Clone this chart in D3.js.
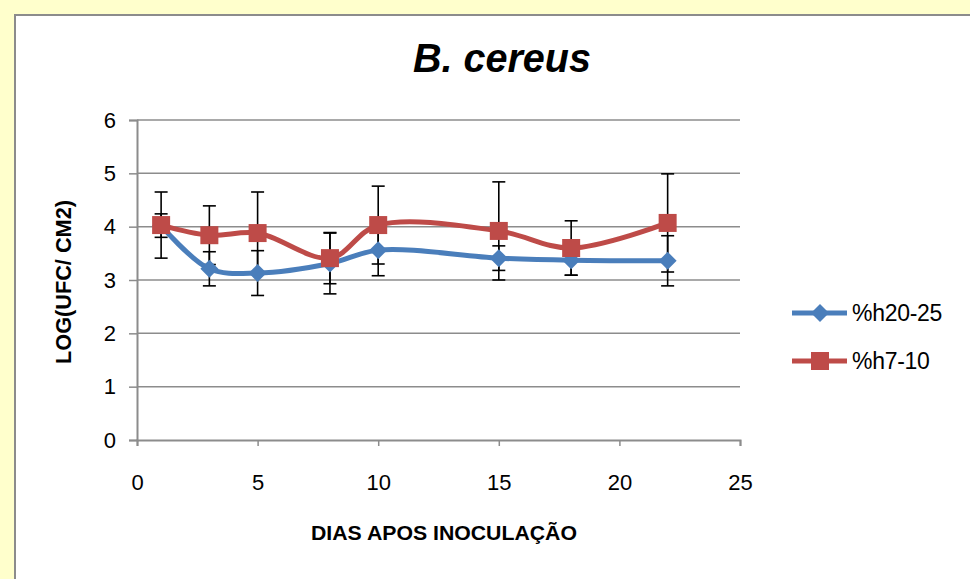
<!DOCTYPE html>
<html>
<head>
<meta charset="utf-8">
<script src="https://cdn.jsdelivr.net/npm/d3@7"></script>
<style>
  body { margin: 0; background: #ffffcc; }
  svg { display: block; font-family: "Liberation Sans", Arial, sans-serif; }
</style>
</head>
<body>
<div class="svg-container"></div>
<script>
// days after inoculation
var days = [1, 3, 5, 8, 10, 15, 18, 22];
// %h20-25
var hiValues = [4.02, 3.21, 3.13, 3.31, 3.56, 3.41, 3.37, 3.36];
var hiErrors = [0.22, 0.32, 0.42, 0.57, 0.48, 0.23, 0.28, 0.47];
// %h7-10
var loValues = [4.03, 3.84, 3.88, 3.41, 4.03, 3.92, 3.60, 4.07];
var loErrors = [0.62, 0.55, 0.77, 0.48, 0.73, 0.92, 0.51, 0.92];
var xTicks = [0, 5, 10, 15, 20, 25];
var yTicks = [0, 1, 2, 3, 4, 5, 6];

var series = [
  { name: '%h20-25', values: hiValues, errors: hiErrors, color: '#4a7ebb', marker: 'diamond' },
  { name: '%h7-10', values: loValues, errors: loErrors, color: '#be4b48', marker: 'square' }
];

var width = 970, height = 579;

var svg = d3.select('.svg-container').append('svg')
  .attr('width', width)
  .attr('height', height);

// white chart panel
svg.append('rect')
  .attr('x', 15).attr('y', 15)
  .attr('width', width).attr('height', height)
  .attr('fill', '#fff')
  .attr('stroke', '#8c8c8c')
  .attr('stroke-width', 2);

var x = d3.scaleLinear().domain([0, 25]).range([137, 740]);
var y = d3.scaleLinear().domain([0, 6]).range([440, 120]);

// gridlines
svg.append('g').selectAll('line')
  .data(yTicks.slice(1))
  .enter().append('line')
  .attr('x1', x(0)).attr('x2', x(25))
  .attr('y1', function (d) { return y(d); })
  .attr('y2', function (d) { return y(d); })
  .attr('stroke', '#8c8c8c')
  .attr('stroke-width', 1.5);

var yAxis = svg.append('g')
  .attr('transform', 'translate(' + x(0) + ',0)')
  .call(d3.axisLeft(y).tickValues(yTicks).tickSize(8).tickPadding(13).tickFormat(d3.format('d')));

var xAxis = svg.append('g')
  .attr('transform', 'translate(0,' + y(0) + ')')
  .call(d3.axisBottom(x).tickValues(xTicks).tickSize(6).tickPadding(28).tickFormat(d3.format('d')));

[yAxis, xAxis].forEach(function (ax) {
  ax.select('.domain').attr('stroke', '#8c8c8c').attr('stroke-width', 2);
  ax.selectAll('.tick line').attr('stroke', '#8c8c8c').attr('stroke-width', 1.5);
  ax.selectAll('.tick text')
    .attr('fill', '#000')
    .style('font-size', '22px')
    .style('font-family', '"Liberation Sans", Arial, sans-serif');
});

// error bars
series.forEach(function (s) {
  var g = svg.append('g').attr('class', 'errors');
  days.forEach(function (d, i) {
    var cx = x(d), top = y(s.values[i] + s.errors[i]), bot = y(s.values[i] - s.errors[i]);
    g.append('line').attr('x1', cx).attr('x2', cx).attr('y1', top).attr('y2', bot);
    g.append('line').attr('x1', cx - 6.5).attr('x2', cx + 6.5).attr('y1', top).attr('y2', top);
    g.append('line').attr('x1', cx - 6.5).attr('x2', cx + 6.5).attr('y1', bot).attr('y2', bot);
  });
  g.selectAll('line').attr('stroke', '#000').attr('stroke-width', 1.6);
});

var line = d3.line()
  .x(function (d) { return x(d[0]); })
  .y(function (d) { return y(d[1]); })
  .curve(d3.curveCatmullRom.alpha(0.5));

function drawMarker(g, type, cx, cy, color) {
  if (type === 'diamond') {
    g.append('path')
      .attr('d', 'M' + cx + ',' + (cy - 9) + 'L' + (cx + 9) + ',' + cy + 'L' + cx + ',' + (cy + 9) + 'L' + (cx - 9) + ',' + cy + 'Z')
      .attr('fill', color);
  } else {
    g.append('rect')
      .attr('x', cx - 9).attr('y', cy - 9)
      .attr('width', 18).attr('height', 18)
      .attr('fill', color);
  }
}

series.forEach(function (s) {
  var pts = days.map(function (d, i) { return [d, s.values[i]]; });
  svg.append('path')
    .datum(pts)
    .attr('d', line)
    .attr('fill', 'none')
    .attr('stroke', s.color)
    .attr('stroke-width', 5);
  var mg = svg.append('g');
  pts.forEach(function (p) { drawMarker(mg, s.marker, x(p[0]), y(p[1]), s.color); });
});

// legend
series.forEach(function (s, i) {
  var ly = 313 + i * 48;
  var lg = svg.append('g');
  lg.append('line')
    .attr('x1', 792).attr('x2', 847)
    .attr('y1', ly).attr('y2', ly)
    .attr('stroke', s.color).attr('stroke-width', 5);
  drawMarker(lg, s.marker, 820, ly, s.color);
  lg.append('text')
    .attr('x', 852).attr('y', ly)
    .attr('dy', '0.36em')
    .style('font-size', '23px')
    .style('letter-spacing', '-0.3px')
    .text(s.name);
});

// title & axis labels
svg.append('text')
  .attr('x', 502).attr('y', 72)
  .attr('text-anchor', 'middle')
  .attr('textLength', 178)
  .attr('lengthAdjust', 'spacingAndGlyphs')
  .style('font-size', '40px')
  .style('font-weight', 'bold')
  .style('font-style', 'italic')
  .text('B. cereus');

svg.append('text')
  .attr('x', 444).attr('y', 540)
  .attr('text-anchor', 'middle')
  .attr('textLength', 266)
  .attr('lengthAdjust', 'spacingAndGlyphs')
  .style('font-size', '21px')
  .style('font-weight', 'bold')
  .text('DIAS APOS INOCULAÇÃO');

svg.append('text')
  .attr('transform', 'translate(71,282) rotate(-90)')
  .attr('text-anchor', 'middle')
  .attr('textLength', 164)
  .attr('lengthAdjust', 'spacingAndGlyphs')
  .style('font-size', '22px')
  .style('font-weight', 'bold')
  .text('LOG(UFC/ CM2)');
</script>
</body>
</html>
